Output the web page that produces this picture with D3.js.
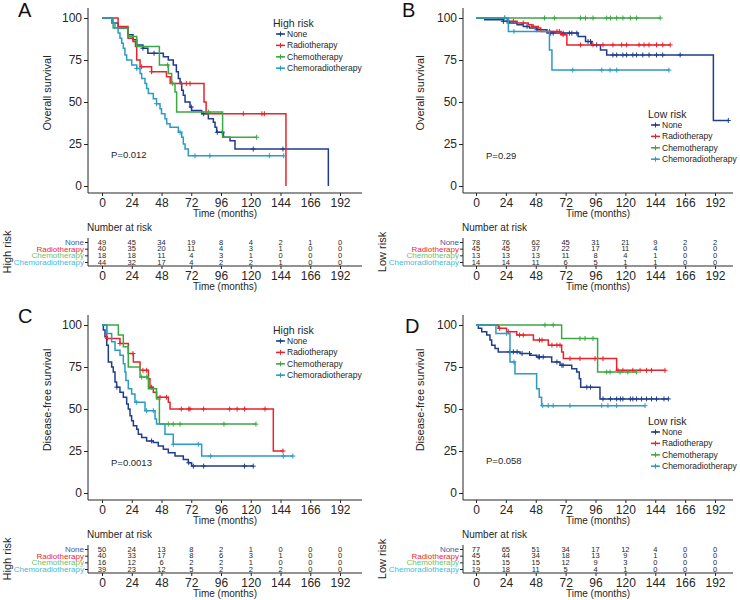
<!DOCTYPE html>
<html>
<head>
<meta charset="utf-8">
<script src="https://d3js.org/d3.v7.min.js"></script>
<style>
  body { margin: 0; background: #fff; }
  svg { font-family: "Liberation Sans", Arial, sans-serif; }
</style>
</head>
<body>
<div id="chart"></div>
<script>
// ---- data ----
const groups = ["None", "Radiotherapy", "Chemotherapy", "Chemoradiotherapy"];
const timeTicks = [0, 24, 48, 72, 96, 120, 144, 168, 192];
const timeLabels = ["0", "24", "48", "72", "96", "120", "144", "166", "192"];
const survTicks = [0, 25, 50, 75, 100];

// A: overall survival, high risk  ([month, %] at each step)
const aNone = [[0,100],[8,97],[13,94],[21,90],[25,87],[28,84],[33,82],[37,79],[49.5,77],[53.5,75],[57.5,72],[60,68],[61.6,64],[63,61],[64.3,57],[65.6,54],[67,50],[71,47],[72.3,45],[80.4,43],[85.8,40],[89.8,38],[91.2,35],[92.5,32],[98,29],[103.3,27],[107.3,22],[182.6,0]];
const aRadio = [[0,100],[13,95],[21,88],[25,86],[27,83],[28,75],[30.7,71],[40,68],[52,65],[55,61],[82.3,50],[84,43],[148.4,0]];
const aChemo = [[0,100],[9,94],[21,89],[28,83],[46.3,72],[53.5,67],[56.2,61],[58.9,56],[60.2,44],[97.3,29],[124.8,29]];
const aChemorad = [[0,100],[8,97],[10.5,94],[13,91],[14.5,88],[15.9,85],[17.2,82],[18.5,78],[19.9,75],[24,72],[28,70],[30.7,67],[32,64],[34.7,61],[36,58],[37.4,55],[41.4,52],[44,49],[46.8,46],[48,43],[50.8,40],[52.2,37],[54.9,35],[61.6,32],[64.3,29],[65.6,25],[67,22],[69.6,18],[146.6,18]];
const aCensNone = [33, 42, 72, 82, 93, 97, 122, 146];
const aCensRadio = [32, 40, 64, 68, 71, 114, 129, 131];
const aCensChemo = [53, 57, 86, 124.8];
const aCensChemorad = [28, 44, 63, 75, 87, 135, 146.6];
const aRisk = [[49,45,34,19,8,4,2,1,0],[40,35,20,11,4,3,1,0,0],[18,18,11,4,3,1,0,0,0],[44,32,17,4,2,2,1,0,0]];

// B: overall survival, low risk
const bNone = [[0,100],[7,99],[22,98],[27,97],[33,96],[38,95],[43,94],[49,93],[57,91],[82,89],[88,86],[93,84],[100,81],[105,78],[190.7,39],[202.7,39]];
const bRadio = [[0,100],[26,98],[33,97],[42,96],[45,95],[50,94],[52,92],[68,90],[73,84],[156,84]];
const bChemo = [[0,100],[148,100]];
const bChemorad = [[0,100],[26,92],[59,81],[61,69],[155,69]];
const bCensNone = [22,25,41,49,60,62,70,75,77,81,90,92,97,110,113,118,121,126,129,134,139,145,150,164,202.7];
const bCensRadio = [30,38,46,59,65,67,70,84,94,102,110,117,121,131,135,139,145,150,156];
const bCensChemo = [23,55,63,84,88,94,105,108,113,118,124,129,148];
const bCensChemorad = [23,30.5,77.7,101,107.7,113,155];
const bRisk = [[78,76,62,45,31,21,9,2,2],[45,45,37,22,17,11,4,0,0],[13,13,13,11,8,4,1,0,0],[14,14,11,6,5,1,1,0,0]];

// C: disease-free survival, high risk
const cNone = [[0,100],[1.1,97],[2.4,93],[3.8,88],[5.1,78],[7.8,75],[9.1,72],[10.5,66],[11.8,63],[14.5,60],[17.2,57],[19.9,53],[21.2,50],[22.6,46],[23.9,43],[25.3,40],[28,38],[29.3,35],[32,33],[36,31],[41.4,30],[45.4,28],[49.5,26],[53.5,24],[58.9,22],[65.6,20],[69.6,18],[72.3,16],[122,16]];
const cRadio = [[0,100],[3.8,92],[14.5,89],[21.2,83],[25.3,78],[30.7,73],[37.4,68],[38.7,63],[41.4,60],[44,57],[53.5,54],[54.9,50],[138.2,25],[146.3,25]];
const cChemo = [[0,100],[13.2,94],[17.2,87],[21.2,75],[30.7,69],[37.4,62],[44,56],[46.3,41],[124.2,41]];
const cChemorad = [[0,100],[3.8,95],[7.8,90],[10.5,85],[14.5,82],[17.2,77],[18.5,72],[19.3,67],[21.2,62],[23.9,59],[26.6,54],[34.7,49],[42.8,44],[44,41],[50.8,35],[57.5,29],[80.4,22],[154,22]];
const cCensNone = [12, 40, 70, 73.7, 82, 115, 122];
const cCensRadio = [4.3, 14.5, 25, 33, 36, 40, 46.8, 52, 64, 70, 71, 82, 103, 109, 115, 131.5, 146];
const cCensChemo = [32, 36, 53.5, 57.5, 63, 98.4, 124.2];
const cCensChemorad = [28, 36, 41.4, 57.5, 77.7, 87.7, 146.3, 154];
const cRisk = [[50,24,13,8,2,1,0,0,0],[40,33,17,8,6,3,1,0,0],[16,12,6,2,2,1,0,0,0],[39,23,12,5,2,2,2,0,0]];

// D: disease-free survival, low risk
const dNone = [[0,100],[1.9,98],[4.6,96],[8.6,94],[11.2,91],[12.6,88],[15.3,86],[17.9,84],[35.4,83],[43.4,82],[48.7,81],[60.8,78],[67.5,76],[76.9,74],[80.9,72],[83,68],[84.1,63],[99.6,56],[154.5,56]];
const dRadio = [[0,100],[17.9,98],[24.6,96],[32.7,94],[46.1,91],[58.1,88],[68.8,84],[70.2,80],[113,73],[151.8,73]];
const dChemo = [[0,100],[68.8,92],[97.7,72],[129,72]];
const dChemorad = [[0,100],[16,95],[27.3,78],[31.3,71],[48.7,62],[50.8,57],[52.7,52],[135.8,52]];
const dCensNone = [27,30,33,37,43,50,51,54,65,69,70,89,92,102,108,113,116,118,124,126,129,133,137,141,145,151,154.5];
const dCensRadio = [19,26,35,38,51,53,61,65,67.5,75.5,83.5,95.6,102,114,118,126,131.8,137,141,151.8];
const dCensChemo = [55.4,62,83.5,87.6,94,105,107.7,115.7,122,129];
const dCensChemorad = [24.6,30.5,53.6,58,62,75.5,101,106,113,135.8];
const dRisk = [[77,65,51,34,17,12,4,0,0],[45,44,34,18,13,9,1,0,0],[15,15,15,12,9,3,0,0,0],[19,18,11,5,4,1,0,0,0]];

// ---- styles ----
const lineColors = ["#1f3d8c", "#e8232b", "#3aa843", "#2b9bc3"];
const labelColors = ["#3b5ba5", "#ee2a2f", "#72c06c", "#45b9dc"];
const ink = "#262626";

const svg = d3.select("#chart")
  .append("svg")
  .attr("width", 740)
  .attr("height", 600);

const leftCol = { x0: 102, x192: 340, left: 88, right: 362, yTitleX: 47, riskTitleX: 11, pX: 111, legX: 273 };
const rightCol = { x0: 476, x192: 715, left: 463, right: 733, yTitleX: 420, riskTitleX: 386, pX: 486, legX: 648 };

const panels = [
  { col: leftCol, dy: 0, letter: "A", letterX: 18, letterY: 17, yTitle: "Overall survival", risk: "High risk", p: "P=0.012", pY: 158, legY: 23,
    curves: [aNone, aRadio, aChemo, aChemorad], cens: [aCensNone, aCensRadio, aCensChemo, aCensChemorad], table: aRisk },
  { col: rightCol, dy: 0, letter: "B", letterX: 402, letterY: 17, yTitle: "Overall survival", risk: "Low risk", p: "P=0.29", pY: 158.5, legY: 114,
    curves: [bNone, bRadio, bChemo, bChemorad], cens: [bCensNone, bCensRadio, bCensChemo, bCensChemorad], table: bRisk },
  { col: leftCol, dy: 307, letter: "C", letterX: 18, letterY: 323, yTitle: "Disease-free survival", risk: "High risk", p: "P=0.0013", pY: 465.5, legY: 330,
    curves: [cNone, cRadio, cChemo, cChemorad], cens: [cCensNone, cCensRadio, cCensChemo, cCensChemorad], table: cRisk },
  { col: rightCol, dy: 307, letter: "D", letterX: 405, letterY: 333, yTitle: "Disease-free survival", risk: "Low risk", p: "P=0.058", pY: 463.5, legY: 421,
    curves: [dNone, dRadio, dChemo, dChemorad], cens: [dCensNone, dCensRadio, dCensChemo, dCensChemorad], table: dRisk }
];

// value of a step curve at time t
const stepAt = (curve, t) => {
  let v = curve[0][1];
  curve.forEach(d => { if (d[0] <= t) v = d[1]; });
  return v;
};

const plusPath = (px, py, r) => `M${px - r},${py}H${px + r}M${px},${py - r}V${py + r}`;

const styleAxis = (sel, fontSize) => {
  sel.select(".domain").remove();
  sel.selectAll(".tick line").attr("stroke", ink);
  sel.selectAll(".tick text").attr("fill", ink).style("font-size", fontSize + "px");
};

const drawPanel = (p) => {
  const c = p.col, dy = p.dy;
  const x = d3.scaleLinear().domain([0, 192]).range([c.x0, c.x192]);
  const y = d3.scaleLinear().domain([0, 100]).range([186 + dy, 18 + dy]);
  const g = svg.append("g");

  // panel letter
  g.append("text").attr("x", p.letterX).attr("y", p.letterY)
    .style("font-size", "20px").attr("fill", "#111").text(p.letter);

  // y axis
  g.append("g").attr("transform", `translate(${c.left},0)`)
    .call(d3.axisLeft(y).tickValues(survTicks).tickSize(4).tickPadding(2))
    .call(s => styleAxis(s, 12));
  g.append("line").attr("x1", c.left).attr("x2", c.left)
    .attr("y1", 8 + dy).attr("y2", 193 + dy).attr("stroke", ink);

  // x axis
  g.append("g").attr("transform", `translate(0,${193 + dy})`)
    .call(d3.axisBottom(x).tickValues(timeTicks).tickFormat((d, i) => timeLabels[i]).tickSize(3).tickPadding(2))
    .call(s => styleAxis(s, 12));
  g.append("line").attr("x1", c.left).attr("x2", c.right)
    .attr("y1", 193 + dy).attr("y2", 193 + dy).attr("stroke", ink);

  g.append("text").attr("x", (c.left + c.right) / 2).attr("y", 216.5 + dy)
    .attr("text-anchor", "middle").style("font-size", "10px").attr("fill", ink)
    .text("Time (months)");

  g.append("text")
    .attr("transform", `translate(${c.yTitleX},${93 + dy}) rotate(-90)`)
    .attr("text-anchor", "middle").attr("dy", "0.35em")
    .style("font-size", "11px").attr("fill", ink).text(p.yTitle);

  // curves with censor marks
  const line = d3.line().x(d => x(d[0])).y(d => y(d[1])).curve(d3.curveStepAfter);
  p.curves.forEach((curve, i) => {
    g.append("path").datum(curve)
      .attr("d", line).attr("fill", "none")
      .attr("stroke", lineColors[i]).attr("stroke-width", 1.5);
    g.append("path")
      .attr("d", p.cens[i].map(t => plusPath(x(t), y(stepAt(curve, t)), 2.5)).join(""))
      .attr("stroke", lineColors[i]).attr("stroke-width", 1).attr("fill", "none");
  });

  // p value
  g.append("text").attr("x", c.pX).attr("y", p.pY)
    .style("font-size", "9.5px").attr("fill", ink).text(p.p);

  // legend
  const lg = g.append("g").attr("transform", `translate(${c.legX},${p.legY})`);
  lg.append("text").attr("x", 0).attr("y", 0).attr("dy", "0.35em")
    .style("font-size", "10.5px").attr("fill", ink).text(p.risk);
  groups.forEach((name, i) => {
    const ly = 11 + i * 11.4;
    lg.append("line").attr("x1", 3).attr("x2", 12).attr("y1", ly).attr("y2", ly)
      .attr("stroke", lineColors[i]).attr("stroke-width", 1.5);
    lg.append("path").attr("d", plusPath(7.5, ly, 2.5))
      .attr("stroke", lineColors[i]).attr("stroke-width", 1);
    lg.append("text").attr("x", 14).attr("y", ly).attr("dy", "0.35em")
      .style("font-size", "8.5px").attr("fill", ink).text(name);
  });

  // number at risk table
  const rows = d3.scalePoint().domain(groups).range([242 + dy, 262 + dy]);
  g.append("text").attr("x", c.left - 1).attr("y", 230.5 + dy)
    .style("font-size", "10px").attr("fill", ink).text("Number at risk");

  g.append("g").attr("transform", `translate(${c.left},0)`)
    .call(d3.axisLeft(rows).tickSize(3).tickPadding(1))
    .call(s => styleAxis(s, 8))
    .call(s => s.selectAll(".tick text").attr("fill", (d, i) => labelColors[i]));
  g.append("line").attr("x1", c.left).attr("x2", c.left)
    .attr("y1", 238 + dy).attr("y2", 266 + dy).attr("stroke", ink);

  p.table.forEach((vals, i) => {
    g.append("g").selectAll("text")
      .data(vals).enter().append("text")
      .attr("x", (d, j) => x(timeTicks[j]))
      .attr("y", rows(groups[i])).attr("dy", "0.35em")
      .attr("text-anchor", "middle").style("font-size", "7.5px").attr("fill", ink)
      .text(d => d);
  });

  g.append("g").attr("transform", `translate(0,${266 + dy})`)
    .call(d3.axisBottom(x).tickValues(timeTicks).tickFormat((d, i) => timeLabels[i]).tickSize(3).tickPadding(2))
    .call(s => styleAxis(s, 12));
  g.append("line").attr("x1", c.left).attr("x2", c.right)
    .attr("y1", 266 + dy).attr("y2", 266 + dy).attr("stroke", ink);

  g.append("text").attr("x", (c.left + c.right) / 2).attr("y", 289.5 + dy)
    .attr("text-anchor", "middle").style("font-size", "10px").attr("fill", ink)
    .text("Time (months)");

  g.append("text")
    .attr("transform", `translate(${c.riskTitleX},${252 + dy}) rotate(-90)`)
    .attr("text-anchor", "middle")
    .style("font-size", "11px").attr("fill", ink).text(p.risk);
};

panels.forEach(drawPanel);
</script>
</body>
</html>
